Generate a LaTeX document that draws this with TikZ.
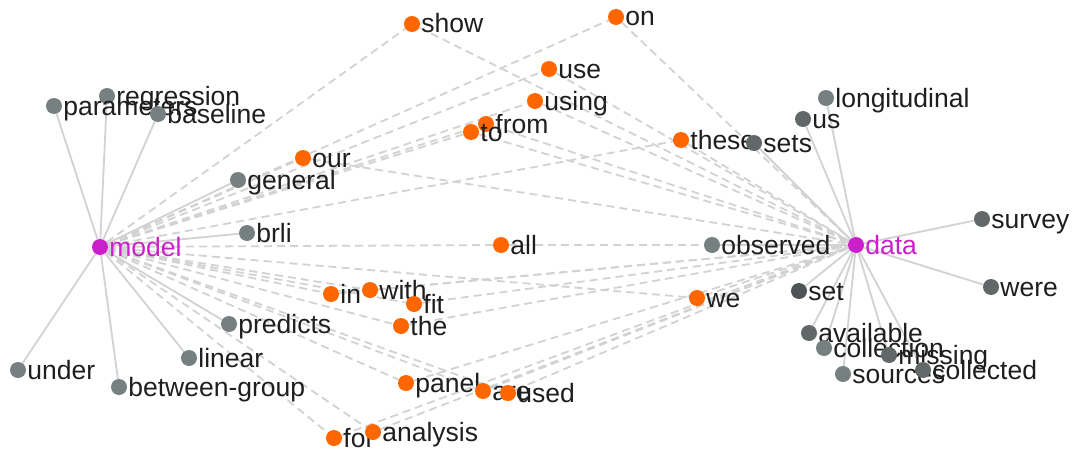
\documentclass[tikz,border=0pt]{standalone}
\usepackage{fontspec}
\setmainfont{Liberation Sans}
\usepackage{tikz}
\usetikzlibrary{positioning, backgrounds}
\definecolor{netorange}{HTML}{FF6600}
\definecolor{nethub}{HTML}{CC1FCC}
\definecolor{netgray}{HTML}{778080}
\definecolor{netmid}{HTML}{626868}
\definecolor{netdark}{HTML}{4E5454}
\definecolor{netlink}{HTML}{D2D2D2}
\definecolor{nettext}{HTML}{1E1E1E}

\tikzset{
  worddot/.style={circle, inner sep=0pt, minimum size=16pt},
  hubdot/.style={worddot, fill=nethub},
  graydot/.style={worddot, fill=netgray},
  middot/.style={worddot, fill=netmid},
  darkdot/.style={worddot, fill=netdark},
  orangedot/.style={worddot, fill=netorange},
  lbl/.style={font=\fontsize{26.5pt}{28pt}\selectfont, text=nettext, inner sep=0pt,
              anchor=base west, label distance=1pt, yshift=-9pt},
  hublbl/.style={lbl, text=nethub},
  solidlink/.style={draw=netlink, line width=1.8pt},
  dashlink/.style={draw=netlink, line width=1.8pt, dash pattern=on 8pt off 5pt}
}

\begin{document}
\begin{tikzpicture}[x=1pt, y=-1pt]
\useasboundingbox (0,0) rectangle (1075,452);

% hubs
\node[hubdot, label={[hublbl]0:model}] (model) at (100,247) {};
\node[hubdot, label={[hublbl]0:data}] (data) at (856,245) {};

% words around model
\node[graydot, label={[lbl]0:regression}] (regression) at (107,96) {};
\node[graydot, label={[lbl]0:parameters}] (parameters) at (54,106) {};
\node[graydot, label={[lbl]0:baseline}] (baseline) at (158,114) {};
\node[graydot, label={[lbl]0:general}] (general) at (238,180) {};
\node[graydot, label={[lbl]0:brli}] (brli) at (247,233) {};
\node[graydot, label={[lbl]0:predicts}] (predicts) at (229,324) {};
\node[graydot, label={[lbl]0:linear}] (linear) at (189,358) {};
\node[graydot, label={[lbl]0:under}] (under) at (18,370) {};
\node[graydot, label={[lbl]0:between-group}] (between) at (119,387) {};

% words around data
\node[graydot, label={[lbl]0:longitudinal}] (longitudinal) at (826,98) {};
\node[middot, label={[lbl]0:us}] (us) at (803,119) {};
\node[middot, label={[lbl]0:survey}] (survey) at (982,219) {};
\node[graydot, label={[lbl]0:observed}] (observed) at (712,245) {};
\node[darkdot, label={[lbl]0:set}] (set) at (799,291) {};
\node[middot, label={[lbl]0:were}] (were) at (991,287) {};
\node[middot, label={[lbl]0:available}] (available) at (809,333) {};
\node[graydot, label={[lbl]0:collection}] (collection) at (824,348) {};
\node[middot, label={[lbl]0:missing}] (missing) at (889,355) {};
\node[graydot, label={[lbl]0:sources}] (sources) at (843,374) {};
\node[middot, label={[lbl]0:collected}] (collected) at (923,370) {};

% shared words
\node[orangedot, label={[lbl]0:show}] (show) at (412,24) {};
\node[orangedot, label={[lbl]0:on}] (on) at (616,17) {};
\node[orangedot, label={[lbl]0:use}] (use) at (549,69) {};
\node[orangedot, label={[lbl]0:using}] (using) at (535,101) {};
\node[orangedot, label={[lbl]0:from}] (from) at (486,124) {};
\node[orangedot, label={[lbl]0:to}] (to) at (471,132) {};
\node[orangedot, label={[lbl]0:our}] (our) at (303,158) {};
\node[orangedot, label={[lbl]0:these}] (these) at (681,140) {};
\node[middot, label={[lbl]0:sets}] (sets) at (754,143) {};
\node[orangedot, label={[lbl]0:all}] (all) at (501,245) {};
\node[orangedot, label={[lbl]0:in}] (in) at (331,294) {};
\node[orangedot, label={[lbl]0:with}] (with) at (370,290) {};
\node[orangedot, label={[lbl]0:fit}] (fit) at (414,304) {};
\node[orangedot, label={[lbl]0:the}] (the) at (401,326) {};
\node[orangedot, label={[lbl]0:we}] (we) at (697,298) {};
\node[orangedot, label={[lbl]0:panel}] (panel) at (406,383) {};
\node[orangedot, label={[lbl]0:are}] (are) at (483,391) {};
\node[orangedot, label={[lbl]0:used}] (used) at (508,393) {};
\node[orangedot, label={[lbl]0:for}] (for) at (334,438) {};
\node[orangedot, label={[lbl]0:analysis}] (analysis) at (373,432) {};

% links
\begin{scope}[on background layer]
\foreach \w in {parameters,regression,baseline,general,brli,predicts,linear,under,between}
  \draw[solidlink] (model) -- (\w);
\foreach \w in {longitudinal,us,sets,survey,observed,set,were,available,collection,missing,sources,collected}
  \draw[solidlink] (data) -- (\w);
\foreach \w in {show,on,use,using,from,to,our,these,all,in,with,fit,the,we,panel,are,used,for,analysis}{
  \draw[dashlink] (model) -- (\w);
  \draw[dashlink] (\w) -- (data);
}
\end{scope}
\end{tikzpicture}
\end{document}
